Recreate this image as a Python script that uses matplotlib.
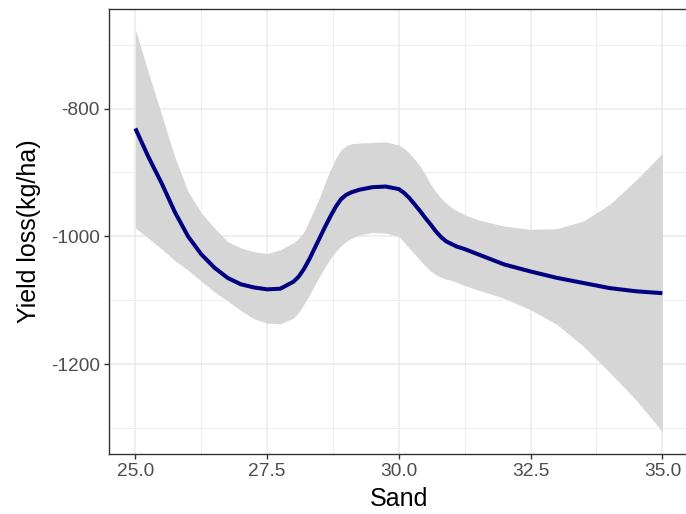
import matplotlib
matplotlib.use("Agg")
import matplotlib.pyplot as plt
from matplotlib.ticker import FixedLocator

plt.rcParams["font.family"] = ["Liberation Sans", "DejaVu Sans"]

# Smoothed yield loss vs sand content, with confidence band
sand = [25.0, 25.25, 25.5, 25.75, 26.0, 26.25, 26.5, 26.75, 27.0, 27.25, 27.5,
        27.75, 28.0, 28.1, 28.2, 28.3, 28.4, 28.5, 28.6, 28.7, 28.8, 28.9,
        29.0, 29.1, 29.25, 29.5, 29.75, 30.0, 30.1, 30.2, 30.3, 30.4, 30.5,
        30.6, 30.7, 30.8, 30.9, 31.0, 31.1, 31.25, 31.5, 32.0, 32.5, 33.0,
        33.5, 34.0, 34.5, 35.0]
fit = [-831, -876, -917, -962, -1000, -1028, -1049, -1065, -1075, -1080, -1083,
       -1082, -1071, -1063, -1051, -1036, -1019, -1002, -985, -969, -954, -942,
       -935, -931, -927, -923, -922, -926, -932, -940, -950, -960, -971,
       -981, -992, -1001, -1008, -1012, -1016, -1020, -1028, -1044, -1055, -1065,
       -1073, -1081, -1086, -1089]
upper = [-676, -744, -810, -876, -930, -963, -987, -1008, -1018, -1024, -1027,
         -1021, -1010, -1003, -993, -975, -957, -938, -916, -896, -878, -865,
         -858, -855, -854, -853, -852, -857, -862, -870, -879, -890, -903,
         -918, -930, -940, -948, -955, -960, -966, -974, -984, -989, -988,
         -976, -950, -912, -870]
lower = [-987, -1003, -1020, -1038, -1053, -1070, -1087, -1101, -1116, -1129, -1136,
         -1137, -1128, -1119, -1106, -1092, -1077, -1062, -1048, -1035, -1024, -1015,
         -1008, -1003, -998, -994, -995, -1000, -1009, -1019, -1028, -1037, -1046,
         -1054, -1060, -1064, -1067, -1069, -1072, -1077, -1084, -1097, -1115, -1138,
         -1172, -1213, -1256, -1306]

x_ticks = [25.0, 27.5, 30.0, 32.5, 35.0]
x_tick_labels = ["25.0", "27.5", "30.0", "32.5", "35.0"]
y_ticks = [-800, -1000, -1200]
y_tick_labels = ["-800", "-1000", "-1200"]

W, H = 686, 514
fig = plt.figure(figsize=(W / 100, H / 100), dpi=100)
left, right, top, bottom = 109, 688.7, 9, 454
ax = fig.add_axes([left / W, 1 - bottom / H, (right - left) / W, (bottom - top) / H])

ax.fill_between(sand, lower, upper, color="#d6d6d6", lw=0, zorder=2)
ax.plot(sand, fit, color="#000080", lw=2.9, solid_capstyle="butt",
        solid_joinstyle="round", zorder=3)

ax.set_xlim(24.5, 35.5)
ax.set_ylim(-1340.8, -644)

ax.set_xticks(x_ticks)
ax.set_xticklabels(x_tick_labels)
ax.set_yticks(y_ticks)
ax.set_yticklabels(y_tick_labels)
ax.xaxis.set_minor_locator(FixedLocator([26.25, 28.75, 31.25, 33.75]))
ax.yaxis.set_minor_locator(FixedLocator([-700, -900, -1100, -1300]))

ax.grid(True, which="major", color="#ebebeb", lw=1.1, zorder=0)
ax.grid(True, which="minor", color="#ebebeb", lw=0.55, zorder=0)
ax.set_axisbelow(True)

for s in ax.spines.values():
    s.set_color("#333333")
    s.set_linewidth(1.0)

ax.tick_params(which="major", length=3.5, width=1.0, color="#333333",
               labelsize=13.8, labelcolor="#4d4d4d", pad=3)
ax.tick_params(which="minor", length=0)

ax.set_xlabel("Sand", fontsize=18, color="black", labelpad=5)
ax.set_ylabel("Yield loss(kg/ha)", fontsize=18, color="black", labelpad=7)

fig.savefig("out.png", dpi=100)
